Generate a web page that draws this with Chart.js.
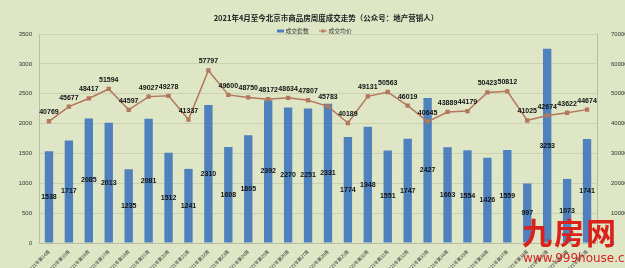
<!DOCTYPE html>
<html>
<head>
<meta charset="utf-8">
<script src="https://cdn.jsdelivr.net/npm/chart.js@4/dist/chart.umd.min.js"></script>
<style>
  html, body { margin: 0; padding: 0; background: #dfe6c6; }
  #wrap { position: relative; width: 625px; height: 268px; }
  #mark1 { position: absolute; left: 522px; top: 214px; font: bold 30px "Noto Sans CJK SC", sans-serif; color: #d9221c; letter-spacing: 2px; line-height: 34px; }
  #mark2 { position: absolute; left: 523px; top: 251px; font: 12px "DejaVu Sans", sans-serif; color: #d9221c; line-height: 14px; }
</style>
</head>
<body>
<div id="wrap">
  <canvas id="chart" width="625" height="268"></canvas>
  <div id="mark1">九房网</div>
  <div id="mark2">www.999house.com</div>
</div>
<script>
const weeks = [14, 15, 16, 17, 18, 19, 20, 21, 22, 23, 24, 25, 26, 27, 28, 29, 30, 31, 32, 33, 34, 35, 36, 37, 38, 39, 40, 41];
const labels = weeks.map(w => '2021年第' + w + '周');
const units = [1538, 1717, 2085, 2013, 1235, 2081, 1512, 1241, 2310, 1608, 1805, 2392, 2270, 2251,
               2331, 1774, 1948, 1551, 1747, 2427, 1603, 1554, 1426, 1559, 997, 3253, 1073, 1741];
const prices = [40769, 45677, 48417, 51594, 44597, 49027, 49278, 41337, 57797, 49600, 48750, 48172, 48634, 47807,
                45783, 40189, 49131, 50563, 46019, 40645, 43889, 44179, 50423, 50812, 41025, 42674, 43622, 44674];
const titleText = '2021年4月至今北京市商品房周度成交走势（公众号：地产营销人）';

const barColor = '#4f81bd';
const lineColor = '#b3775c';

// title, legend and value labels drawn by hand so their positions match
const decorations = {
    id: 'decorations',
    afterDatasetsDraw(chart) {
        const ctx = chart.ctx;
        ctx.save();
        ctx.font = 'bold 7px "Liberation Sans", Arial, sans-serif';
        ctx.fillStyle = '#111';
        ctx.textAlign = 'center';
        ctx.textBaseline = 'middle';
        chart.getDatasetMeta(0).data.forEach((bar, i) => {
            ctx.fillText(units[i], bar.x, (bar.y + bar.base) / 2);
        });
        chart.getDatasetMeta(1).data.forEach((pt, i) => {
            ctx.fillText(prices[i], pt.x, pt.y - 9);
        });

        // title
        ctx.fillStyle = '#222';
        ctx.font = 'bold 7.5px "Noto Sans CJK SC", sans-serif';
        ctx.fillText(titleText, 326, 18.5);

        // legend
        ctx.font = '5.8px "Noto Sans CJK SC", sans-serif';
        ctx.textAlign = 'left';
        ctx.fillStyle = barColor;
        ctx.fillRect(277, 29.5, 7, 3);
        ctx.fillStyle = '#333';
        ctx.fillText(chart.data.datasets[0].label, 285.5, 31);
        ctx.strokeStyle = lineColor;
        ctx.lineWidth = 1;
        ctx.beginPath();
        ctx.moveTo(319, 31);
        ctx.lineTo(327, 31);
        ctx.stroke();
        ctx.fillStyle = lineColor;
        ctx.fillRect(321.5, 29.5, 3, 3);
        ctx.fillStyle = '#333';
        ctx.fillText(chart.data.datasets[1].label, 328.5, 31);
        ctx.restore();
    }
};

new Chart(document.getElementById('chart'), {
    data: {
        labels: labels,
        datasets: [{
            type: 'bar',
            label: '成交套数',
            data: units,
            yAxisID: 'y',
            backgroundColor: barColor,
            borderWidth: 0,
            barPercentage: 0.42,
            categoryPercentage: 1,
            order: 2
        }, {
            type: 'line',
            label: '成交均价',
            data: prices,
            yAxisID: 'y1',
            borderColor: lineColor,
            backgroundColor: lineColor,
            borderWidth: 1.5,
            pointStyle: 'rect',
            pointRadius: 2,
            tension: 0,
            order: 1
        }]
    },
    options: {
        responsive: false,
        animation: false,
        layout: { padding: { top: 34, left: 0, right: 0, bottom: 0 } },
        plugins: {
            legend: { display: false },
            tooltip: { enabled: false }
        },
        scales: {
            x: {
                grid: { display: false },
                border: { color: '#b9bfa6' },
                ticks: {
                    color: '#333',
                    font: { size: 4.5, family: '"Noto Sans CJK SC", sans-serif' },
                    minRotation: 45,
                    maxRotation: 45,
                    autoSkip: false,
                    padding: -2
                },
                afterFit(scale) { scale.height = 25; }
            },
            y: {
                position: 'left',
                min: 0,
                max: 3500,
                grid: { color: '#cbd2b2', drawTicks: false },
                border: { color: '#b9bfa6' },
                ticks: {
                    stepSize: 500,
                    color: '#333',
                    padding: 7,
                    font: { size: 6, family: '"Liberation Sans", Arial, sans-serif' },
                    callback: v => String(v)
                },
                afterFit(scale) { scale.width = 39; }
            },
            y1: {
                position: 'right',
                min: 0,
                max: 70000,
                grid: { display: false },
                border: { color: '#b9bfa6' },
                ticks: {
                    stepSize: 10000,
                    color: '#333',
                    padding: 6,
                    font: { size: 6, family: '"Liberation Sans", Arial, sans-serif' },
                    callback: v => String(v)
                },
                afterFit(scale) { scale.width = 28; }
            }
        }
    },
    plugins: [decorations]
});
</script>
</body>
</html>
